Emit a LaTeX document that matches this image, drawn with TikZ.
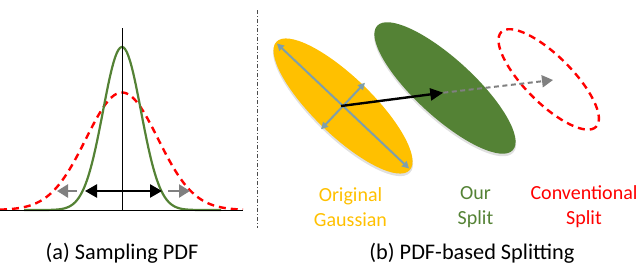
\documentclass[tikz,border=0pt]{standalone}
\usepackage{fontspec}
\setmainfont{Carlito}
\usetikzlibrary{arrows.meta,calc}
\definecolor{gyellow}{HTML}{FFC000}
\definecolor{ggreen}{HTML}{548235}
\definecolor{gred}{HTML}{FF0000}
\definecolor{gslate}{HTML}{7F9FAA}
\definecolor{ggray}{HTML}{808080}
\tikzset{
  curvegreen/.style={ggreen, line width=2.2bp},
  curvered/.style={gred, line width=2.4bp, dash pattern=on 7bp off 5bp},
  blackarr/.style={black, line width=2.4bp, -{Triangle[length=13bp,width=12bp]}},
  grayarr/.style={ggray, line width=2.4bp, -{Triangle[length=11bp,width=13bp]}},
  slatearr/.style={gslate, line width=2bp, {Triangle[length=7bp,width=7bp]}-{Triangle[length=7bp,width=7bp]}},
  lbl/.style={font=\fontsize{20bp}{25bp}\selectfont, align=center, inner sep=0pt},
  captext/.style={font=\fontsize{22.3bp}{26bp}\selectfont, inner sep=0pt, anchor=base},
}
\begin{document}
\begin{tikzpicture}[x=1bp,y=-1bp]
\useasboundingbox (0,0) rectangle (638,266);
% ---------- (a) Sampling PDF ----------
\coordinate (axl) at (0,210.3);
\coordinate (axr) at (243,210.3);
\coordinate (vtop) at (122,28);
\coordinate (vbot) at (122,210.3);
\draw[curvered] plot[domain=0:243, samples=120] (\x, {210 - 117.5*exp(-((\x-122)^2)/(2*36^2))});
\draw[curvegreen] plot[domain=24:221, samples=120] (\x, {210 - 163*exp(-((\x-122)^2)/(2*19^2))});
\draw[black, line width=1.1bp] (axl) -- (axr);
\draw[black, line width=1bp] (vtop) -- (vbot);
\coordinate (dl) at (85,191);
\coordinate (dr) at (162,191);
\draw[black, line width=2.4bp, {Triangle[length=12bp,width=13bp]}-{Triangle[length=12bp,width=13bp]}] (dl) -- (dr);
\coordinate (gl0) at (77,191);
\coordinate (gl1) at (57,191);
\coordinate (gr0) at (168,191);
\coordinate (gr1) at (190,191);
\draw[grayarr] (gl0) -- (gl1);
\draw[grayarr] (gr0) -- (gr1);
\node[captext] (capa) at (122,259) {(a) Sampling PDF};
% divider
\coordinate (d0) at (257.5,10);
\coordinate (d1) at (257.5,228);
\draw[black!70, line width=0.9bp, dash pattern=on 4bp off 2bp on 1bp off 2bp] (d0) -- (d1);
% ---------- (b) PDF-based Splitting ----------
\coordinate (yc) at (343,106);
\coordinate (gc) at (445,88);
\coordinate (rc) at (548.7,79.4);
% soft shadows
\fill[black!12, rotate around={-44:(yc)}] ($(yc)+(1.5,1.5)$) ellipse [x radius=93, y radius=29.5];
\fill[black!12, rotate around={-42.5:(gc)}] ($(gc)+(1.5,1.5)$) ellipse [x radius=92.5, y radius=29.5];
\fill[gyellow, rotate around={-44:(yc)}] (yc) ellipse [x radius=92.5, y radius=29];
\fill[ggreen, rotate around={-42.5:(gc)}] (gc) ellipse [x radius=92, y radius=29];
\draw[gred, line width=2.4bp, dash pattern=on 7bp off 5bp, rotate around={-45:(rc)}] (rc) ellipse [x radius=67, y radius=23.5];
% axes of original gaussian
\coordinate (la) at (276.9,43.5);
\coordinate (lb) at (409.1,168.5);
\coordinate (sa) at (365,82.7);
\coordinate (sb) at (321,129.3);
\draw[slatearr] (la) -- (lb);
\draw[slatearr] (sb) -- (sa);
% split arrows
\coordinate (ac) at (341,106);
\coordinate (bt) at (443.3,92.7);
\coordinate (rt) at (553,80);
\draw[ggray, line width=2bp, dash pattern=on 5bp off 3.5bp, -{Triangle[length=11bp,width=12bp]}] (bt) -- (rt);
\draw[blackarr] (ac) -- (bt);
% labels
\node[lbl, text=gyellow] (lorig) at (350.5,207) {Original\\Gaussian};
\node[lbl, text=ggreen] (lour) at (475.5,207) {Our\\Split};
\node[lbl, text=gred] (lconv) at (584,207) {Conventional\\Split};
\node[captext] (capb) at (472,259) {(b) PDF-based Splitting};
\end{tikzpicture}
\end{document}
